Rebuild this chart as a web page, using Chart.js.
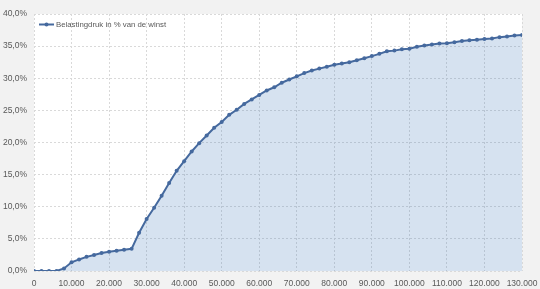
<!DOCTYPE html>
<html><head><meta charset="utf-8">
<script src="https://cdn.jsdelivr.net/npm/chart.js@4"></script>
<style>html,body{margin:0;padding:0;background:#f2f2f2}#wrap{width:540px;height:289px}</style>
</head><body><div id="wrap"><canvas id="c" width="540" height="289"></canvas></div>
<script>
const seriesName = "Belastingdruk in % van de winst";
const incomes = [];
for (let i = 0; i <= 130000; i += 2000) incomes.push(i);
const burden = [0,0,0,0,0.4,1.35,1.8,2.2,2.5,2.8,3.0,3.15,3.3,3.45,5.95,8.1,9.85,11.7,13.7,15.6,17.1,18.6,19.9,21.1,22.3,23.2,24.3,25.1,26.0,26.7,27.4,28.1,28.6,29.3,29.8,30.3,30.8,31.2,31.5,31.8,32.1,32.3,32.5,32.8,33.1,33.45,33.8,34.2,34.3,34.5,34.6,34.9,35.1,35.25,35.4,35.45,35.6,35.8,35.9,36.0,36.1,36.2,36.4,36.5,36.65,36.75];
const yTicks = [0,5,10,15,20,25,30,35,40];
const xTicks = [0,10000,20000,30000,40000,50000,60000,70000,80000,90000,100000,110000,120000,130000];

const lineColor = '#45699e';
const txt = '#595959';
const fontFam = "'Liberation Sans', Arial, sans-serif";

const bgPlugin = {
  id: 'bg',
  beforeDraw(chart) {
    const {ctx, chartArea: a} = chart;
    ctx.save();
    ctx.fillStyle = '#f2f2f2';
    ctx.fillRect(0, 0, chart.width, chart.height);
    ctx.fillStyle = '#ffffff';
    ctx.fillRect(a.left, a.top, a.right - a.left, a.bottom - a.top);
    ctx.restore();
  },
  afterDraw(chart) {
    const {ctx, chartArea: a} = chart;
    ctx.save();
    const y = a.top + 10.5;
    const x0 = a.left + 5;
    ctx.strokeStyle = lineColor; ctx.lineWidth = 2;
    ctx.beginPath(); ctx.moveTo(x0, y); ctx.lineTo(x0 + 15, y); ctx.stroke();
    ctx.fillStyle = lineColor;
    ctx.beginPath(); ctx.arc(x0 + 7.5, y, 2, 0, Math.PI * 2); ctx.fill();
    ctx.fillStyle = txt; ctx.font = "7.8px " + fontFam; ctx.textBaseline = 'middle';
    ctx.fillText(seriesName, x0 + 17, y);
    ctx.restore();
  }
};

new Chart(document.getElementById('c'), {
  type: 'line',
  data: {
    datasets: [{
      label: seriesName,
      data: incomes.map((x, i) => ({x: x, y: burden[i]})),
      borderColor: lineColor,
      backgroundColor: 'rgba(79,129,189,0.23)',
      fill: 'origin',
      borderWidth: 2,
      pointRadius: 2,
      pointBackgroundColor: lineColor,
      pointBorderColor: lineColor,
      pointBorderWidth: 0,
      tension: 0
    }]
  },
  options: {
    responsive: false,
    animation: false,
    events: [],
    layout: {padding: {top: 14, right: 18, left: 0, bottom: 0}},
    plugins: {legend: {display: false}, tooltip: {enabled: false}},
    scales: {
      x: {
        type: 'linear', min: 0, max: 130000,
        afterBuildTicks(s) { s.ticks = xTicks.map(v => ({value: v})); },
        afterFit(s) { s.height = 18; s.paddingRight = 0; s.paddingLeft = 0; },
        grid: {color: '#d9d9d9', drawTicks: false, lineWidth: 1},
        border: {display: false, dash: [2, 2]},
        ticks: {
          padding: 8, color: txt, font: {family: fontFam, size: 8.5}, maxRotation: 0, autoSkip: false,
          callback: v => v === 0 ? '0' : v.toLocaleString('de-DE')
        }
      },
      y: {
        min: 0, max: 40,
        afterBuildTicks(s) { s.ticks = yTicks.map(v => ({value: v})); },
        afterFit(s) { s.width = 34; s.paddingTop = 0; s.paddingBottom = 0; },
        grid: {color: '#d9d9d9', drawTicks: false, lineWidth: 1},
        border: {display: false, dash: [2, 2]},
        ticks: {
          padding: 7, color: txt, font: {family: fontFam, size: 8.5},
          callback: v => v.toFixed(1).replace('.', ',') + '%'
        }
      }
    }
  },
  plugins: [bgPlugin]
});
</script></body></html>
